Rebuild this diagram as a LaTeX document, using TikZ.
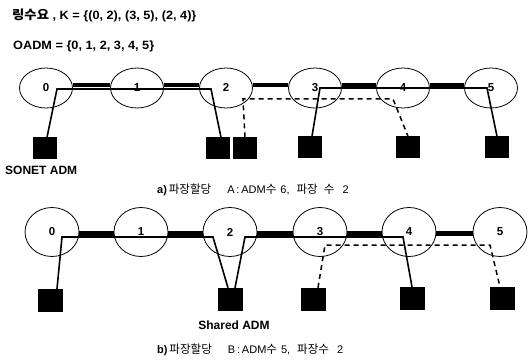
\documentclass[tikz,border=0pt]{standalone}
\usepackage{fontspec}
\setmainfont{Liberation Sans}
\newfontfamily\kr[Scale=1.05]{Noto Sans CJK KR}
\usetikzlibrary{calc,shapes.geometric}
\begin{document}
\begin{tikzpicture}[x=1pt,y=-1pt,
  oadm/.style={draw,line width=0.8pt,ellipse,inner sep=0pt,font=\bfseries\fontsize{11.5}{11.5}\selectfont},
  oadmtop/.style={oadm,minimum width=53pt,minimum height=40pt},
  oadmbot/.style={oadm,minimum width=54pt,minimum height=49pt},
  adm/.style={fill=black,draw=black,inner sep=0pt,minimum width=23pt,minimum height=21pt},
  admb/.style={adm,minimum width=24pt,minimum height=22pt},
  fiber/.style={line width=4.5pt},
  lpath/.style={line width=1.6pt},
  dpath/.style={line width=1.5pt,dash pattern=on 5pt off 4pt},
  txt/.style={inner sep=0pt,anchor=west},
  btxt/.style={txt,font=\bfseries\fontsize{12}{12}\selectfont},
  ctxt/.style={txt,font=\fontsize{11}{11}\selectfont}
]
\useasboundingbox (0,0) rectangle (531,361);

% texts
\node[btxt] (t1) at (12,15) {\scalebox{1.06}[1]{{\kr\bfseries 링수요} , K = \{(0, 2), (3, 5), (2, 4)\}}};
\node[btxt] (t2) at (13,46) {\scalebox{1.06}[1]{OADM = \{0, 1, 2, 3, 4, 5\}}};
\node[btxt] (t3) at (5,170) {SONET ADM};
\node[ctxt] (t4) at (157,190) {\textbf{a)}\,{\kr 파장할당}\hspace{16pt}A\,:\,ADM{\kr 수}\hspace{4pt}6,\hspace{7pt}{\kr 파장\hspace{6pt}수}\hspace{8pt}2};
\node[btxt,anchor=center] (t5) at (234,325) {Shared ADM};
\node[ctxt] (t6) at (157,350) {\textbf{b)}\,{\kr 파장할당}\hspace{16pt}B\,:\,ADM{\kr 수}\hspace{4pt}5,\hspace{7pt}{\kr 파장수}\hspace{8pt}2};

% ---------- top (a) ----------
\foreach \i/\x in {0/46,1/137,2/226,3/315,4/403,5/491}
  \node[oadmtop] (a\i) at (\x,88) {\raisebox{1pt}{\i}};
\foreach \i/\j in {0/1,1/2,2/3,3/4,4/5}
  \draw[fiber] ([yshift=3pt]a\i.east) -- ([yshift=3pt]a\j.west);

\node[adm] (sa0) at (45,148) {};
\node[adm] (sa2) at (218,148) {};
\node[adm] (sa2b) at (245,148) {};
\node[adm] (sa3) at (310,147) {};
\node[adm] (sa4) at (408,147) {};
\node[adm] (sa5) at (497,147) {};

\coordinate (pa0) at (57,89);
\coordinate (pa2) at (211,89);
\coordinate (pa3) at (320,88);
\coordinate (pa5) at (487,88);
\coordinate (qa2) at (243,99);
\coordinate (qa4) at (393,99);

\draw[lpath] ([xshift=2pt]sa0.north) -- (pa0) -- (pa2) -- ([xshift=3pt]sa2.north);
\draw[lpath] ([xshift=2pt]sa3.north) -- (pa3) -- (pa5) -- (sa5.north);
\draw[dpath] (sa2b.north) -- (qa2) -- (qa4) -- (sa4.north);

% ---------- bottom (b) ----------
\foreach \i/\x in {0/52,1/141,2/230,3/320,4/409,5/500}
  \node[oadmbot] (b\i) at (\x,232) {\i};
\foreach \i/\j in {0/1,1/2,2/3,3/4,4/5}
  \draw[fiber] ([yshift=-1.5pt]b\i.east) -- ([yshift=-1.5pt]b\j.west);

\node[admb] (sb0) at (50,300) {};
\node[admb] (sb2) at (230,299) {};
\node[admb] (sb3) at (313,299) {};
\node[admb] (sb4) at (412,298) {};
\node[admb] (sb5) at (502,298) {};

\coordinate (pb0) at (62,237);
\coordinate (pb2) at (213,237);
\coordinate (pb2b) at (245,237);
\coordinate (pb4) at (403,237);
\coordinate (qb3) at (325,245);
\coordinate (qb5) at (490,245);

\draw[lpath] ([xshift=7pt]sb0.north) -- (pb0) -- (pb2) -- ([xshift=-2pt]sb2.north);
\draw[lpath] ([xshift=5pt]sb2.north) -- (pb2b) -- (pb4) -- (sb4.north);
\draw[dpath] ([xshift=5pt]sb3.north) -- (qb3) -- (qb5) -- ([xshift=-2pt]sb5.north);
\end{tikzpicture}
\end{document}
